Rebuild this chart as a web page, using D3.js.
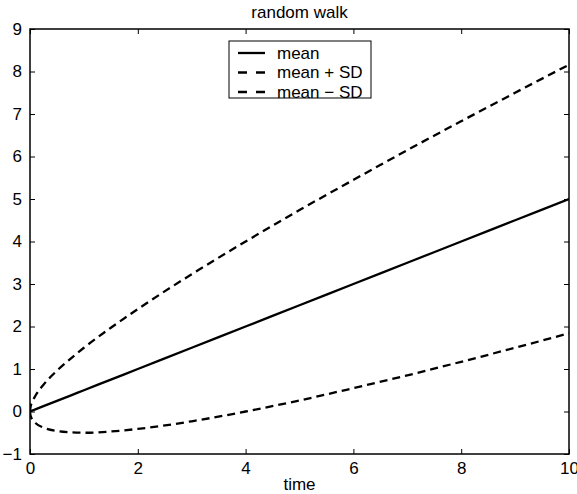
<!DOCTYPE html>
<html>
<head>
<meta charset="utf-8">
<script src="https://cdn.jsdelivr.net/npm/d3@7"></script>
<style>
  body { margin: 0; background: #fff; overflow: hidden; }
  svg { display: block; }
  svg text { font-family: "Liberation Sans", Arial, Helvetica, sans-serif; fill: #000; }
</style>
</head>
<body>
<script>
// values
var time      = [0, 0.01, 0.05, 0.1, 0.25, 0.5, 0.75, 1, 1.5, 2, 3, 4, 5, 6, 7, 8, 9, 10];
var meanVals  = [0, 0.005, 0.025, 0.05, 0.125, 0.25, 0.375, 0.5, 0.75, 1, 1.5, 2, 2.5, 3, 3.5, 4, 4.5, 5];
var upperVals = [0, 0.105, 0.25, 0.37, 0.63, 0.96, 1.24, 1.5, 1.97, 2.41, 3.23, 4, 4.74, 5.45, 6.15, 6.83, 7.5, 8.16];
var lowerVals = [0, -0.095, -0.20, -0.27, -0.38, -0.46, -0.49, -0.5, -0.47, -0.41, -0.23, 0, 0.26, 0.55, 0.85, 1.17, 1.5, 1.84];
var xTicks = [0, 2, 4, 6, 8, 10];
var yTicks = [-1, 0, 1, 2, 3, 4, 5, 6, 7, 8, 9];
var seriesNames = ['mean', 'mean + SD', 'mean \u2212 SD'];

(function () {
  var width = 577, height = 494;
  var pLeft = 30, pRight = 569, pTop = 29, pBottom = 454;
  var fontSize = '17px';

  var svg = d3.select('body').append('svg').attr('width', width).attr('height', height);

  var x = d3.scaleLinear().domain([0, 10]).range([pLeft, pRight]);
  var y = d3.scaleLinear().domain([-1, 9]).range([pBottom, pTop]);

  var series = [
    { name: seriesNames[0], vals: meanVals, dash: null },
    { name: seriesNames[1], vals: upperVals, dash: '8,5' },
    { name: seriesNames[2], vals: lowerVals, dash: '8,5' }
  ];

  svg.append('clipPath').attr('id', 'clip').append('rect')
     .attr('x', pLeft).attr('y', pTop).attr('width', pRight - pLeft).attr('height', pBottom - pTop);

  var line = d3.line()
    .x(function (d) { return x(d[0]); })
    .y(function (d) { return y(d[1]); })
    .curve(d3.curveMonotoneX);

  // curves
  svg.append('g').attr('clip-path', 'url(#clip)')
     .selectAll('path')
     .data(series)
     .enter()
     .append('path')
     .attr('d', function (s) { return line(time.map(function (t, i) { return [t, s.vals[i]]; })); })
     .attr('fill', 'none')
     .attr('stroke', '#000')
     .attr('stroke-width', 2.3)
     .attr('stroke-dasharray', function (s) { return s.dash; });

  // axes with inward ticks on all four sides
  function styleAxis(g) {
    g.select('.domain').remove();
    g.selectAll('line').attr('stroke', '#000').attr('stroke-width', 1);
    g.selectAll('text').style('font-size', fontSize).attr('fill', '#000');
  }

  svg.append('g').attr('transform', 'translate(0,' + pBottom + ')')
     .call(d3.axisBottom(x).tickValues(xTicks).tickSizeInner(-5).tickSizeOuter(0).tickPadding(8))
     .call(styleAxis);
  svg.append('g').attr('transform', 'translate(0,' + pTop + ')')
     .call(d3.axisTop(x).tickValues(xTicks).tickSizeInner(-5).tickSizeOuter(0).tickFormat(''))
     .call(styleAxis);
  svg.append('g').attr('transform', 'translate(' + pLeft + ',0)')
     .call(d3.axisLeft(y).tickValues(yTicks).tickSizeInner(-5).tickSizeOuter(0).tickPadding(8)
       .tickFormat(function (d) { return d < 0 ? '\u2212' + Math.abs(d) : d; }))
     .call(styleAxis);
  svg.append('g').attr('transform', 'translate(' + pRight + ',0)')
     .call(d3.axisRight(y).tickValues(yTicks).tickSizeInner(-5).tickSizeOuter(0).tickFormat(''))
     .call(styleAxis);

  // frame
  svg.append('rect')
     .attr('x', pLeft).attr('y', pTop).attr('width', pRight - pLeft).attr('height', pBottom - pTop)
     .attr('fill', 'none').attr('stroke', '#000').attr('stroke-width', 1.5);

  // title and axis label
  svg.append('text').attr('x', (pLeft + pRight) / 2).attr('y', 18)
     .attr('text-anchor', 'middle').style('font-size', fontSize).text('random walk');
  svg.append('text').attr('x', (pLeft + pRight) / 2).attr('y', 490)
     .attr('text-anchor', 'middle').style('font-size', fontSize).text('time');

  // legend
  var lg = svg.append('g');
  lg.append('rect').attr('x', 229).attr('y', 41).attr('width', 142).attr('height', 57)
    .attr('fill', '#fff').attr('stroke', '#000').attr('stroke-width', 1);
  var rows = lg.selectAll('g.row').data(series).enter().append('g')
    .attr('transform', function (d, i) { return 'translate(0,' + (53 + i * 19.5) + ')'; });
  rows.append('line').attr('x1', 238).attr('x2', 265).attr('y1', 0).attr('y2', 0)
    .attr('stroke', '#000').attr('stroke-width', 2.3)
    .attr('stroke-dasharray', function (d) { return d.dash ? '9,9' : null; });
  rows.append('text').attr('x', 277).attr('y', 0).attr('dy', '0.35em')
    .style('font-size', fontSize).text(function (d) { return d.name; });
})();
</script>
</body>
</html>
